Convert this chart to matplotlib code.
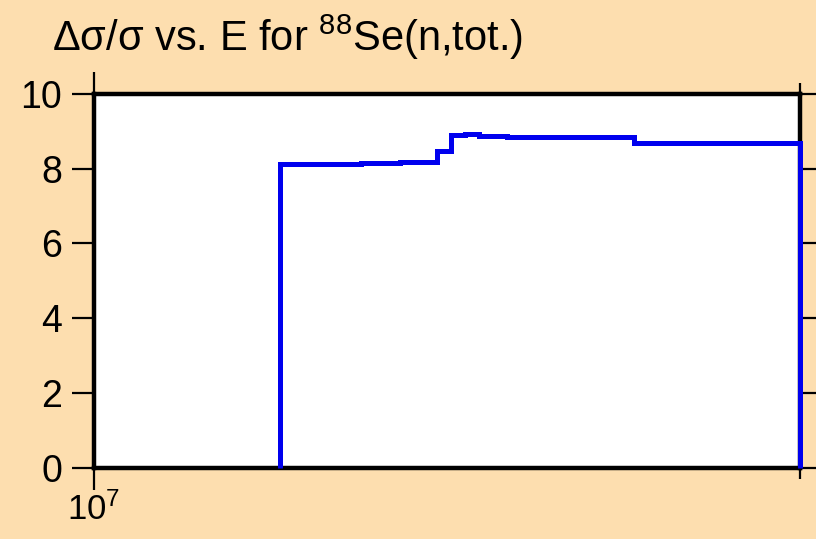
"""
Relative uncertainty of the 88Se total cross section vs. neutron energy.
"""
import matplotlib
matplotlib.use('Agg')
from matplotlib import pyplot as plt
from matplotlib import ticker

plt.rcParams['font.family'] = ['Liberation Sans', 'DejaVu Sans']
plt.rcParams['mathtext.fontset'] = 'custom'
plt.rcParams['mathtext.rm'] = 'Liberation Sans'
plt.rcParams['mathtext.it'] = 'Liberation Sans'
plt.rcParams['mathtext.bf'] = 'Liberation Sans:bold'

# group boundaries (eV) and relative uncertainty (%) in each group
energy_edges = [1.2e7, 1.3e7, 1.35e7, 1.375e7, 1.4e7, 1.42e7, 1.44e7,
                1.46e7, 1.5e7, 1.6e7, 1.7e7, 2.0e7]
rel_unc = [8.13, 8.15, 8.17, 8.19, 8.48, 8.90, 8.92, 8.88, 8.86, 8.85, 8.69]

bg = '#fddeaf'
fig = plt.figure(figsize=(8.16, 5.39), dpi=100, facecolor=bg)
ax = fig.add_axes([0.1152, 0.1323, 0.8652, 0.6933])
ax.set_facecolor('white')

ax.stairs(rel_unc, energy_edges, baseline=0, color='#0000ee', linewidth=3.6,
          zorder=3, clip_on=False)

ax.set_xscale('log')
ax.set_xlim(1e7, 2e7)
ax.set_ylim(0, 10)
ax.set_yticks([0, 2, 4, 6, 8, 10])
ax.xaxis.set_major_locator(ticker.FixedLocator([1e7]))
ax.xaxis.set_minor_locator(ticker.FixedLocator([2e7]))
ax.xaxis.set_major_formatter(ticker.LogFormatterMathtext())
ax.xaxis.set_minor_formatter(ticker.NullFormatter())

for s in ax.spines.values():
    s.set_linewidth(3.2)
ax.tick_params(which='major', direction='out', length=16, width=1.6,
               labelsize=27, pad=7, top=True, right=True)
ax.tick_params(which='minor', direction='out', length=8, width=1.6,
               top=True, right=True)
ax.tick_params(axis='x', pad=2, labelsize=25)

fig.text(0.064, 0.905, 'Δσ/σ vs. E for $^{88}$Se(n,tot.)', fontsize=30,
         ha='left', va='baseline')

fig.savefig('out.png', dpi=100, facecolor=bg)
